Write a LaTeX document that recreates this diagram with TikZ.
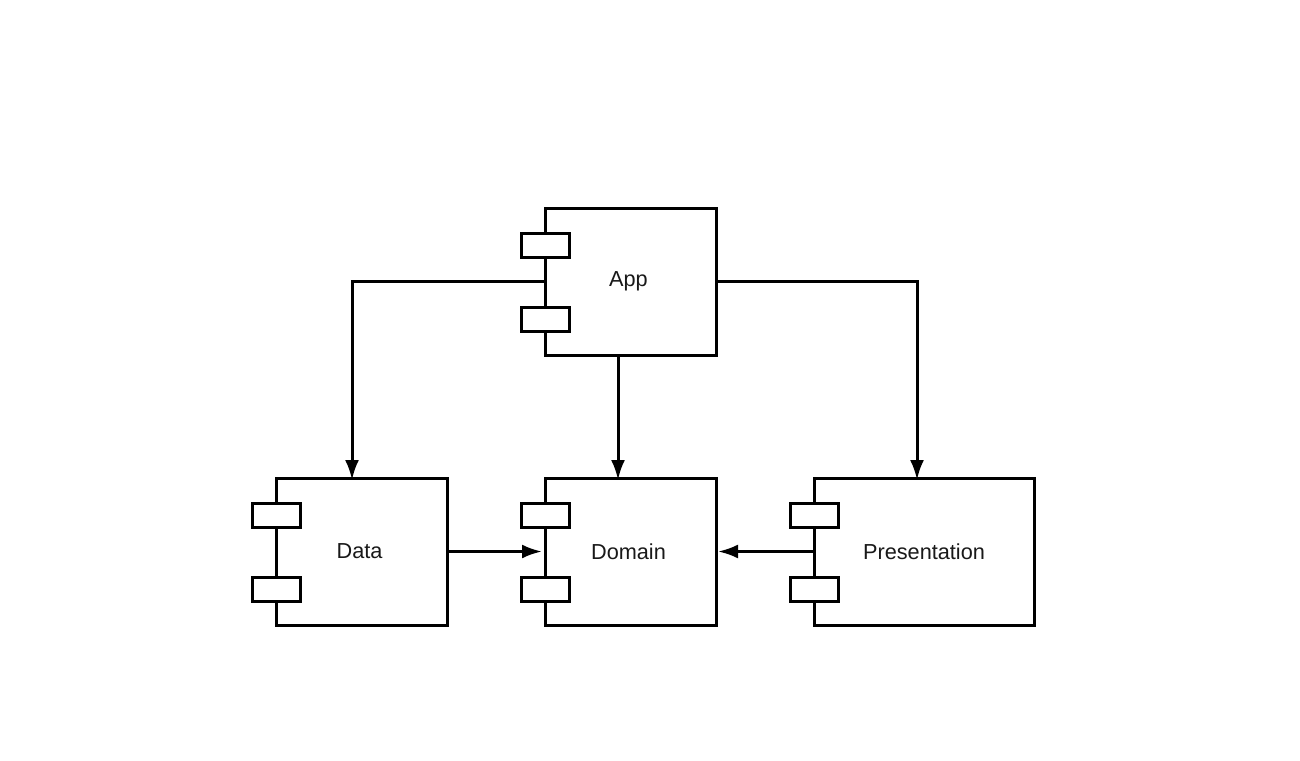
\documentclass[tikz,border=0pt]{standalone}
\usepackage{fontspec}
\setmainfont{Liberation Sans}
\usetikzlibrary{arrows.meta,calc}
\begin{document}
\begin{tikzpicture}[x=1pt,y=-1pt,
  comp/.style={draw=black,line width=3pt,fill=white,minimum height=147pt,inner sep=0pt,outer sep=0pt,
    font=\fontsize{21.7}{25}\selectfont,text=black!90},
  port/.style={draw=black,line width=3pt,fill=white},
  conn/.style={line width=3pt,-{Latex[length=20pt,width=14pt]}}]
\useasboundingbox (0,0) rectangle (1300,760);
\node[comp,minimum width=171pt] (app) at (630.5,281.5) {\kern-4pt App};
\node[comp,minimum width=171pt] (data) at (361.5,551.5) {\kern-4pt Data};
\node[comp,minimum width=171pt] (domain) at (630.5,551.5) {\kern-4pt Domain};
\node[comp,minimum width=220pt] (pres) at (924,551.5) {Presentation};
\foreach \n in {app,data,domain,pres}{
  \draw[port] ($(\n.north west)+(-24,25)$) rectangle ($(\n.north west)+(24,49)$);
  \draw[port] ($(\n.north west)+(-24,99)$) rectangle ($(\n.north west)+(24,123)$);
}
\draw[conn] (app.west) -| ([yshift=-2pt]data.north -| 352,0);
\draw[conn] (app.south -| 618,0) -- ([yshift=-2pt]domain.north -| 618,0);
\draw[conn] (app.east) -| ([yshift=-2pt]pres.north -| 917,0);
\draw[conn] (data.east) -- ([xshift=-3pt]domain.west);
\draw[conn] (pres.west) -- ([xshift=2pt]domain.east);
\end{tikzpicture}
\end{document}
